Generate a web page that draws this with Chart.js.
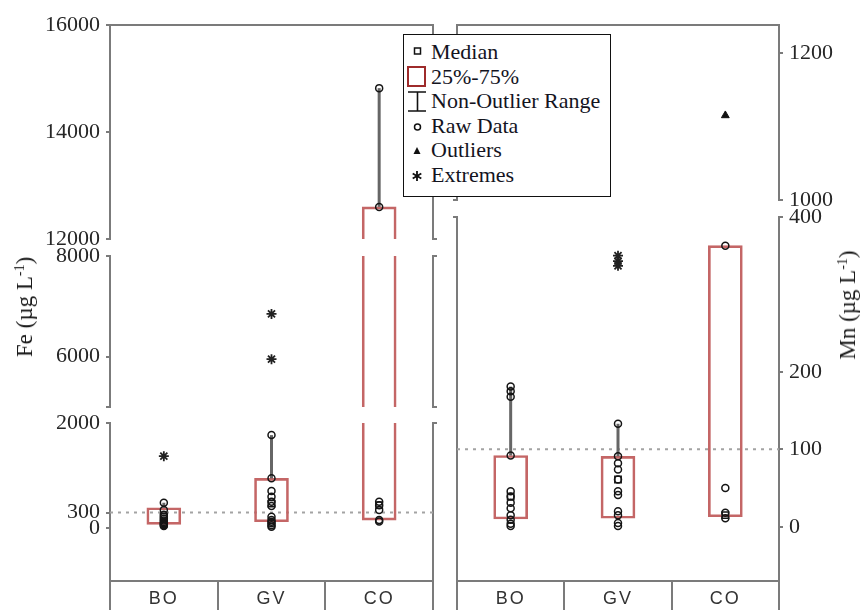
<!DOCTYPE html>
<html>
<head>
<meta charset="utf-8">
<script src="https://cdn.jsdelivr.net/npm/chart.js@4.4.0/dist/chart.umd.min.js"></script>
<style>
  body { margin: 0; background: #fff; }
  #wrap { position: relative; width: 861px; height: 610px; overflow: hidden; background: #fff; }
  #wrap canvas { position: absolute; left: 0; top: 0; }
  .ytitle { position: absolute; font: 23px 'Liberation Serif'; color: #1a1a1a; white-space: nowrap;
            transform: translate(-50%, -50%) rotate(-90deg); }
  .ytitle sup { font-size: 14px; vertical-align: 8px; line-height: 0; }
  #legend { position: absolute; left: 403px; top: 34px; width: 208px; height: 163px; box-sizing: border-box;
            border: 1.5px solid #111; background: #fff; padding-top: 5px; z-index: 5;
            font: 22px 'Liberation Serif'; color: #14141e; }
  #legend .row { position: relative; height: 24.5px; line-height: 24.5px; padding-left: 27px; white-space: nowrap; }
  #legend svg { position: absolute; left: 0; top: 0; }
</style>
</head>
<body>
<div id="wrap">
  <canvas id="feHigh" width="861" height="610"></canvas>
  <canvas id="feMid" width="861" height="610"></canvas>
  <canvas id="feLow" width="861" height="610"></canvas>
  <canvas id="mnHigh" width="861" height="610"></canvas>
  <canvas id="mnLow" width="861" height="610"></canvas>

  <div class="ytitle" style="left:25px; top:307px;">Fe (µg L<sup>-1</sup>)</div>
  <div class="ytitle" style="left:848px; top:305px;">Mn (µg L<sup>-1</sup>)</div>

  <div id="legend">
    <div class="row"><svg width="27" height="25"><rect x="10.5" y="8" width="6" height="6" fill="none" stroke="#111" stroke-width="1.5"/></svg>Median</div>
    <div class="row"><svg width="27" height="25"><rect x="4" y="2" width="17" height="19" fill="none" stroke="#9e2b2b" stroke-width="2"/></svg>25%-75%</div>
    <div class="row"><svg width="27" height="25"><path d="M4 3H22M13.5 3V22M4 22H22" fill="none" stroke="#111" stroke-width="1.6"/></svg>Non-Outlier Range</div>
    <div class="row"><svg width="27" height="25"><circle cx="13.5" cy="13" r="3" fill="none" stroke="#111" stroke-width="1.5"/></svg>Raw Data</div>
    <div class="row"><svg width="27" height="25"><path d="M13 9L16.5 16H9.5Z" fill="#111"/></svg>Outliers</div>
    <div class="row"><svg width="27" height="25"><path d="M13 8V18M8.7 10.5L17.3 15.5M8.7 15.5L17.3 10.5" stroke="#111" stroke-width="1.8"/></svg>Extremes</div>
  </div>
</div>

<script>
// --- DATA ---
const groups = ['BO', 'GV', 'CO'];

// Fe (µg L-1)
const feQ1 = [76, 125, 157];
const feQ3 = [391, 949, 12600];
const feMedian = [220, 470, 440];
const feWhiskerTop = [486, 1770, 14820];
const feRawBO = [486, 347, 260, 220, 180, 150, 120, 95, 76, 60, 45];
const feRawGV = [1770, 949, 708, 600, 505, 423, 220, 157, 125, 95, 60, 30];
const feRawCO = [14820, 12600, 505, 440, 350, 160, 130];
const feOutliers = [[], [], []];
const feExtremes = [[1370], [6850, 5950], []];
const feGuide = 300;

// Mn (µg L-1)
const mnQ1 = [10, 11, 13];
const mnQ3 = [92, 91, 363];
const mnMedian = [39, 61, 15];
const mnWhiskerTop = [181, 133, 363];
const mnRawBO = [181, 175, 168, 92, 46, 39, 31, 24, 15, 9, 4, 1];
const mnRawGV = [133, 91, 82, 74, 61, 46, 41, 20, 15, 5, 1];
const mnRawCO = [363, 50, 18, 11];
const mnOutliers = [[], [], [1115]];
const mnExtremes = [[], [350, 343, 337], []];
const mnGuide = 100;

// broken axes: value range of each piece + labelled ticks
const feSegHigh = [12000, 16000], feSegMid = [5000, 8000], feSegLow = [-1000, 2000];
const feTicksHigh = [12000, 14000, 16000], feTicksMid = [6000, 8000], feTicksLow = [0, 300, 2000];
const mnSegHigh = [1000, 1238], mnSegLow = [-70, 400];
const mnTicksHigh = [1000, 1200], mnTicksLow = [0, 100, 200, 400];

// --- STYLE ---
const AXIS = '#7b7b7b';
const INK = '#262626';
const BOX = '#c46666';
const WHISKER = '#666';

// letter spacing only for the category labels (x labels drawn before datasets, y labels after)
const spacedLabels = {
    id: 'spacedLabels',
    beforeDraw(chart) { chart.ctx.letterSpacing = '2px'; },
    beforeDatasetsDraw(chart) { chart.ctx.letterSpacing = '0px'; }
};

function buildDatasets(q1, q3, med, whiskTop, raws, outliers, extremes, guide) {
    const pts = arrs => arrs.flatMap((vals, i) => vals.map(v => ({ x: i + 1, y: v })));
    const sets = [
        { type: 'line', data: [{ x: 0.5, y: guide }, { x: 3.5, y: guide }], borderColor: '#a3a3a3',
          borderWidth: 2, borderDash: [3, 5], pointRadius: 0, order: 6 },
        { type: 'bar', data: groups.map((g, i) => ({ x: i + 1, y: [q1[i], q3[i]] })),
          backgroundColor: 'rgba(0,0,0,0)', borderColor: BOX, borderWidth: 2, borderSkipped: false,
          barThickness: 34, order: 5 }
    ];
    groups.forEach((g, i) => sets.push({
        type: 'line', data: [{ x: i + 1, y: q3[i] }, { x: i + 1, y: whiskTop[i] }],
        borderColor: WHISKER, borderWidth: 3, pointRadius: 0, order: 4
    }));
    sets.push({ type: 'scatter', data: pts(raws), pointStyle: 'circle', pointRadius: 3.5, pointBorderWidth: 1.5,
                pointBorderColor: '#151515', pointBackgroundColor: 'rgba(255,255,255,0)', order: 3 });
    sets.push({ type: 'scatter', data: med.map((v, i) => ({ x: i + 1, y: v })), pointStyle: 'rect', pointRadius: 4.5,
                pointBorderWidth: 1.5, pointBorderColor: '#151515', pointBackgroundColor: 'rgba(255,255,255,0)', order: 2 });
    sets.push({ type: 'scatter', data: pts(outliers), pointStyle: 'triangle', pointRadius: 4.5, pointBorderWidth: 1,
                pointBorderColor: '#111', pointBackgroundColor: '#111', order: 1 });
    sets.push({ type: 'scatter', data: pts(extremes), pointStyle: 'star', pointRadius: 5, pointBorderWidth: 1.8,
                pointBorderColor: '#222', pointBackgroundColor: '#222', order: 0 });
    return sets;
}

function yAxis(position, range, labelTicks, capTicks, width) {
    const all = [...new Set([...capTicks, ...labelTicks])].sort((a, b) => a - b);
    return {
        type: 'linear', position: position, min: range[0], max: range[1],
        afterBuildTicks: s => { s.ticks = all.map(v => ({ value: v })); },
        afterFit: s => { s.width = width; },
        ticks: { z: 1, autoSkip: false, padding: 6, color: INK, font: { family: 'Liberation Serif', size: 22 },
                 callback: v => labelTicks.includes(v) ? String(v) : '' },
        grid: { drawOnChartArea: false, drawTicks: true, tickLength: 4, color: AXIS, lineWidth: 2 },
        border: { display: true, color: AXIS, width: 2 }
    };
}

function xAxis(show) {
    return {
        type: 'linear', position: 'bottom', min: 0.5, max: 3.5, display: show, offset: false,
        afterBuildTicks: s => { s.ticks = [0.5, 1, 1.5, 2, 2.5, 3, 3.5].map(v => ({ value: v })); },
        afterFit: s => { s.height = show ? 29 : 0; },
        ticks: { autoSkip: false, maxRotation: 0, padding: -22, color: '#333',
                 font: { family: 'Liberation Sans', size: 18 },
                 callback: v => Number.isInteger(v) ? groups[v - 1] : '' },
        grid: { offset: false, drawOnChartArea: false, drawTicks: true, tickLength: 29, lineWidth: 2,
                color: c => (c.tick && Number.isInteger(c.tick.value)) ? 'rgba(0,0,0,0)' : AXIS },
        border: { display: true, color: AXIS, width: 2 }
    };
}

function topFrame(show) {
    return {
        type: 'linear', position: 'top', min: 0.5, max: 3.5, display: show,
        afterFit: s => { s.height = 0; },
        ticks: { display: false },
        grid: { drawOnChartArea: false, drawTicks: false },
        border: { display: true, color: AXIS, width: 2 }
    };
}

// one chart per axis piece, all stacked on the same page area
function makeSegment(id, seg) {
    const feSide = seg.panel === 'fe';
    const leftW = feSide ? 70 : 10, rightW = feSide ? 10 : 70;
    const areaLeft = feSide ? 110 : 457, areaRight = feSide ? 433 : 779;
    return new Chart(document.getElementById(id), {
        type: 'scatter',
        data: { datasets: seg.datasets },
        options: {
            responsive: false,
            animation: false,
            layout: { padding: { left: areaLeft - leftW, right: 861 - areaRight - rightW,
                                 top: seg.top, bottom: seg.showX ? 0 : 610 - seg.bottom } },
            plugins: { legend: { display: false }, tooltip: { enabled: false } },
            scales: {
                x: xAxis(seg.showX),
                xTop: topFrame(seg.showTop),
                y: yAxis('left', seg.range, feSide ? seg.ticks : [], seg.capsLeft, leftW),
                y2: yAxis('right', seg.range, feSide ? [] : seg.ticks, seg.capsRight, rightW)
            }
        },
        plugins: seg.showX ? [spacedLabels] : []
    });
}

const feSets = () => buildDatasets(feQ1, feQ3, feMedian, feWhiskerTop, [feRawBO, feRawGV, feRawCO], feOutliers, feExtremes, feGuide);
const mnSets = () => buildDatasets(mnQ1, mnQ3, mnMedian, mnWhiskerTop, [mnRawBO, mnRawGV, mnRawCO], mnOutliers, mnExtremes, mnGuide);

makeSegment('feHigh', { panel: 'fe', range: feSegHigh, ticks: feTicksHigh, capsLeft: [], capsRight: [feSegHigh[0]],
                        top: 25, bottom: 239, showTop: true, showX: false, datasets: feSets() });
makeSegment('feMid', { panel: 'fe', range: feSegMid, ticks: feTicksMid, capsLeft: [feSegMid[0]], capsRight: feSegMid,
                       top: 256, bottom: 407, showTop: false, showX: false, datasets: feSets() });
makeSegment('feLow', { panel: 'fe', range: feSegLow, ticks: feTicksLow, capsLeft: [], capsRight: [feSegLow[1]],
                       top: 423, bottom: 581, showTop: false, showX: true, datasets: feSets() });
makeSegment('mnHigh', { panel: 'mn', range: mnSegHigh, ticks: mnTicksHigh, capsLeft: [mnSegHigh[0]], capsRight: [],
                        top: 25, bottom: 200, showTop: true, showX: false, datasets: mnSets() });
makeSegment('mnLow', { panel: 'mn', range: mnSegLow, ticks: mnTicksLow, capsLeft: [mnSegLow[1]], capsRight: [],
                       top: 217, bottom: 581, showTop: false, showX: true, datasets: mnSets() });
</script>
</body>
</html>
